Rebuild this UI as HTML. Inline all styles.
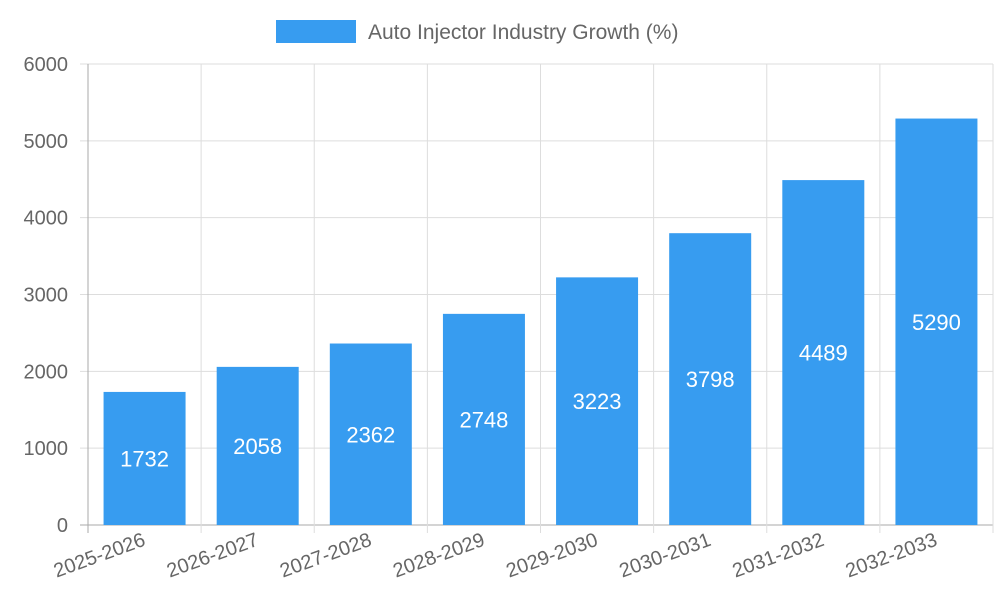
<!DOCTYPE html>
<html><head><meta charset="utf-8"><style>
body{margin:0;background:#fff;}
svg{display:block;font-family:"Liberation Sans",sans-serif;}
</style></head><body>
<svg id="chart" width="1000" height="600">
<g id="grid"></g>
<g id="bars"></g>
<g id="axes"></g>
<g>
<rect x="276" y="20" width="80" height="23" fill="#379cf0"></rect>
<text x="368" y="39" font-size="21" fill="#666">Auto Injector Industry Growth (%)</text>
</g>
</svg>
<script>
const categories=["2025-2026","2026-2027","2027-2028","2028-2029","2029-2030","2030-2031","2031-2032","2032-2033"];
const values=[1732,2058,2362,2748,3223,3798,4489,5290];
const yTicks=[0,1000,2000,3000,4000,5000,6000];
const X0=88,X1=993,Y0=525,Y1=64,YMAX=6000;
const NS="http://www.w3.org/2000/svg";
const bw=(X1-X0)/categories.length;
const y=v=>Y0-(v/YMAX)*(Y0-Y1);
const xc=i=>X0+bw*(i+0.5);
function mk(tag,attrs,parent,text){const e=document.createElementNS(NS,tag);for(const k in attrs)e.setAttribute(k,attrs[k]);if(text!==undefined)e.textContent=text;parent.appendChild(e);return e;}
const grid=document.getElementById('grid'),bars=document.getElementById('bars'),axes=document.getElementById('axes');
yTicks.forEach(t=>{
 const l=mk('line',{x1:X0-8,x2:X1,y1:y(t),y2:y(t),stroke:t===0?'#aaa':'#ddd','stroke-width':1},grid);
 
 
 const tx=mk('text',{x:X0-20,y:y(t)+7,'text-anchor':'end','font-size':20,fill:'#666'},axes,String(t));
 
 
});
for(let i=0;i<=categories.length;i++){
 const gx=X0+bw*i;
 const l=mk('line',{x1:gx,x2:gx,y1:Y1,y2:Y0+8,stroke:i===0?'#aaa':'#ddd','stroke-width':1},grid);
 
 
}
categories.forEach((c,i)=>{
 const w=82,top=y(values[i]);
 const r=mk('rect',{x:xc(i)-w/2,y:top,width:w,height:Y0-top,fill:'#379cf0'},bars);
 
 
 const v=mk('text',{x:xc(i),y:(top+Y0)/2+8,'text-anchor':'middle','font-size':22,fill:'#fff'},bars,String(values[i]));
 
 
 const lx=xc(i)+2,ly=545;
 const t=mk('text',{x:lx,y:ly,'text-anchor':'end','font-size':20,fill:'#666',transform:`rotate(-20 ${lx} ${ly})`},axes,c);
 
 
});
</script>
</body></html>
